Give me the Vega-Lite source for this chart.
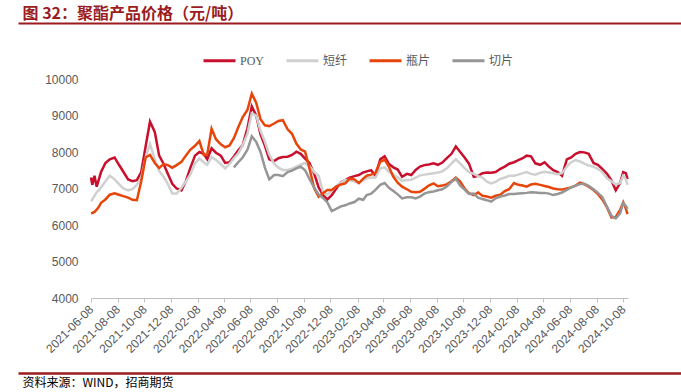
{
 "$schema": "https://vega.github.io/schema/vega-lite/v6.json",
 "width": 663,
 "height": 350,
 "autosize": {"type": "none"},
 "padding": {"left": 18, "top": 23, "right": 0, "bottom": 19},
 "background": "white",
 "config": {"view": {"stroke": null}},
 "data": {"values": [
{"d":"2021-06-08","POY":7300,"短纤":6650,"瓶片":6320},
{"d":"2021-06-11","POY":7100,"短纤":6700,"瓶片":6330},
{"d":"2021-06-16","POY":7350,"短纤":6800,"瓶片":6360},
{"d":"2021-06-21","POY":7050,"短纤":6900,"瓶片":6420},
{"d":"2021-06-26","POY":7250,"短纤":6950,"瓶片":6500},
{"d":"2021-07-01","POY":7450,"短纤":7030,"瓶片":6610},
{"d":"2021-07-11","POY":7700,"短纤":7200,"瓶片":6700},
{"d":"2021-07-21","POY":7800,"短纤":7350,"瓶片":6830},
{"d":"2021-08-01","POY":7850,"短纤":7250,"瓶片":6870},
{"d":"2021-08-11","POY":7650,"短纤":7120,"瓶片":6830},
{"d":"2021-08-21","POY":7460,"短纤":7000,"瓶片":6790},
{"d":"2021-09-01","POY":7250,"短纤":6950,"瓶片":6750},
{"d":"2021-09-11","POY":7200,"短纤":6980,"瓶片":6690},
{"d":"2021-09-21","POY":7230,"短纤":7100,"瓶片":6680},
{"d":"2021-10-01","POY":7450,"短纤":7300,"瓶片":7200},
{"d":"2021-10-11","POY":8150,"短纤":7850,"瓶片":7850},
{"d":"2021-10-21","POY":8830,"短纤":8220,"瓶片":7920},
{"d":"2021-11-01","POY":8550,"短纤":7800,"瓶片":7700},
{"d":"2021-11-11","POY":7900,"短纤":7480,"瓶片":7560},
{"d":"2021-11-21","POY":7680,"短纤":7320,"瓶片":7670},
{"d":"2021-12-01","POY":7400,"短纤":7120,"瓶片":7640},
{"d":"2021-12-11","POY":7130,"短纤":6860,"瓶片":7570},
{"d":"2021-12-21","POY":7000,"短纤":6860,"瓶片":7640},
{"d":"2022-01-01","POY":6950,"短纤":7020,"瓶片":7730},
{"d":"2022-01-11","POY":7200,"短纤":7190,"瓶片":7900},
{"d":"2022-01-21","POY":7550,"短纤":7380,"瓶片":8060},
{"d":"2022-02-01","POY":7900,"短纤":7690,"瓶片":8170},
{"d":"2022-02-11","POY":8000,"短纤":7820,"瓶片":8300},
{"d":"2022-02-21","POY":7950,"短纤":7720,"瓶片":7920},
{"d":"2022-03-01","POY":7800,"短纤":7650,"瓶片":7930},
{"d":"2022-03-11","POY":8100,"短纤":7860,"瓶片":8640},
{"d":"2022-03-21","POY":7980,"短纤":7780,"瓶片":8350},
{"d":"2022-04-01","POY":7900,"短纤":7670,"瓶片":8210},
{"d":"2022-04-11","POY":7700,"短纤":7550,"瓶片":8130},
{"d":"2022-04-21","POY":7720,"短纤":7670,"瓶片":8180},
{"d":"2022-05-01","POY":7880,"短纤":7830,"瓶片":8380,"切片":7580},
{"d":"2022-05-11","POY":8050,"短纤":7960,"瓶片":8680,"切片":7720},
{"d":"2022-05-21","POY":8180,"短纤":8180,"瓶片":8950,"切片":7850},
{"d":"2022-06-01","POY":8650,"短纤":8500,"瓶片":9150,"切片":8060},
{"d":"2022-06-11","POY":9250,"短纤":9060,"瓶片":9600,"切片":8430},
{"d":"2022-06-21","POY":9000,"短纤":9000,"瓶片":9350,"切片":8280},
{"d":"2022-07-01","POY":8480,"短纤":8580,"瓶片":8900,"切片":8000},
{"d":"2022-07-11","POY":8170,"短纤":8280,"瓶片":8730,"切片":7570},
{"d":"2022-07-21","POY":7800,"短纤":7930,"瓶片":8710,"切片":7250},
{"d":"2022-08-01","POY":7750,"短纤":7680,"瓶片":8780,"切片":7370},
{"d":"2022-08-11","POY":7830,"短纤":7570,"瓶片":8850,"切片":7370},
{"d":"2022-08-21","POY":7860,"短纤":7510,"瓶片":8870,"切片":7340},
{"d":"2022-09-01","POY":7870,"短纤":7510,"瓶片":8620,"切片":7450},
{"d":"2022-09-11","POY":7920,"短纤":7540,"瓶片":8500,"切片":7490},
{"d":"2022-09-21","POY":8010,"短纤":7600,"瓶片":8230,"切片":7550},
{"d":"2022-10-01","POY":7950,"短纤":7650,"瓶片":8070,"切片":7600},
{"d":"2022-10-11","POY":7820,"短纤":7700,"瓶片":8010,"切片":7500},
{"d":"2022-10-21","POY":7700,"短纤":7620,"瓶片":7550,"切片":7260},
{"d":"2022-11-01","POY":7400,"短纤":7450,"瓶片":7000,"切片":7020},
{"d":"2022-11-11","POY":7030,"短纤":7350,"瓶片":6780,"切片":6840},
{"d":"2022-11-21","POY":6820,"短纤":6900,"瓶片":6870,"切片":6740},
{"d":"2022-12-01","POY":6700,"短纤":6830,"瓶片":6960,"切片":6620},
{"d":"2022-12-11","POY":6820,"短纤":6950,"瓶片":6960,"切片":6380},
{"d":"2022-12-21","POY":6990,"短纤":7060,"瓶片":7050,"切片":6440},
{"d":"2023-01-01","POY":7170,"短纤":7160,"瓶片":7110,"切片":6510},
{"d":"2023-01-11","POY":7230,"短纤":7230,"瓶片":7140,"切片":6540},
{"d":"2023-01-21","POY":7300,"短纤":7230,"瓶片":7270,"切片":6590},
{"d":"2023-02-01","POY":7340,"短纤":7190,"瓶片":7250,"切片":6630},
{"d":"2023-02-11","POY":7370,"短纤":7150,"瓶片":7150,"切片":6720},
{"d":"2023-02-21","POY":7440,"短纤":7230,"瓶片":7270,"切片":6690},
{"d":"2023-03-01","POY":7470,"短纤":7280,"瓶片":7350,"切片":6820},
{"d":"2023-03-11","POY":7500,"短纤":7300,"瓶片":7380,"切片":6860},
{"d":"2023-03-21","POY":7350,"短纤":7300,"瓶片":7430,"切片":6960},
{"d":"2023-04-01","POY":7800,"短纤":7550,"瓶片":7730,"切片":7100},
{"d":"2023-04-11","POY":7880,"短纤":7580,"瓶片":7790,"切片":7150},
{"d":"2023-04-21","POY":7670,"短纤":7450,"瓶片":7590,"切片":7020},
{"d":"2023-05-01","POY":7580,"短纤":7380,"瓶片":7320,"切片":6930},
{"d":"2023-05-11","POY":7520,"短纤":7300,"瓶片":7160,"切片":6840},
{"d":"2023-05-21","POY":7320,"短纤":7210,"瓶片":7050,"切片":6730},
{"d":"2023-06-01","POY":7400,"短纤":7230,"瓶片":6980,"切片":6760},
{"d":"2023-06-11","POY":7370,"短纤":7240,"瓶片":6910,"切片":6760},
{"d":"2023-06-21","POY":7510,"短纤":7300,"瓶片":6900,"切片":6730},
{"d":"2023-07-01","POY":7600,"短纤":7360,"瓶片":6910,"切片":6780},
{"d":"2023-07-11","POY":7640,"短纤":7380,"瓶片":6990,"切片":6860},
{"d":"2023-07-21","POY":7660,"短纤":7400,"瓶片":7080,"切片":6900},
{"d":"2023-08-01","POY":7690,"短纤":7420,"瓶片":7140,"切片":6920},
{"d":"2023-08-11","POY":7650,"短纤":7440,"瓶片":7060,"切片":6950},
{"d":"2023-08-21","POY":7710,"短纤":7470,"瓶片":7080,"切片":6980},
{"d":"2023-09-01","POY":7840,"短纤":7560,"瓶片":7120,"切片":7060},
{"d":"2023-09-11","POY":7950,"短纤":7690,"瓶片":7200,"切片":7180},
{"d":"2023-09-21","POY":8150,"短纤":7800,"瓶片":7300,"切片":7270},
{"d":"2023-10-01","POY":8000,"短纤":7680,"瓶片":7190,"切片":7080},
{"d":"2023-10-11","POY":7850,"短纤":7560,"瓶片":7000,"切片":6970},
{"d":"2023-10-21","POY":7680,"短纤":7450,"瓶片":6870,"切片":6850},
{"d":"2023-11-01","POY":7320,"短纤":7400,"瓶片":6820,"切片":6860},
{"d":"2023-11-11","POY":7350,"短纤":7340,"瓶片":6890,"切片":6750},
{"d":"2023-11-21","POY":7420,"短纤":7300,"瓶片":6800,"切片":6710},
{"d":"2023-12-01","POY":7440,"短纤":7190,"瓶片":6780,"切片":6680},
{"d":"2023-12-11","POY":7430,"短纤":7140,"瓶片":6750,"切片":6640},
{"d":"2023-12-21","POY":7450,"短纤":7180,"瓶片":6800,"切片":6730},
{"d":"2024-01-01","POY":7540,"短纤":7260,"瓶片":6830,"切片":6780},
{"d":"2024-01-11","POY":7600,"短纤":7300,"瓶片":6930,"切片":6810},
{"d":"2024-01-21","POY":7680,"短纤":7350,"瓶片":6980,"切片":6850},
{"d":"2024-02-01","POY":7720,"短纤":7350,"瓶片":7150,"切片":6850},
{"d":"2024-02-11","POY":7780,"短纤":7380,"瓶片":7100,"切片":6860},
{"d":"2024-02-21","POY":7830,"短纤":7420,"瓶片":7080,"切片":6870},
{"d":"2024-03-01","POY":7900,"短纤":7450,"瓶片":7050,"切片":6880},
{"d":"2024-03-11","POY":7880,"短纤":7400,"瓶片":7110,"切片":6900},
{"d":"2024-03-21","POY":7690,"短纤":7380,"瓶片":7130,"切片":6890},
{"d":"2024-04-01","POY":7650,"短纤":7430,"瓶片":7100,"切片":6880},
{"d":"2024-04-11","POY":7720,"短纤":7460,"瓶片":7070,"切片":6880},
{"d":"2024-04-21","POY":7600,"短纤":7440,"瓶片":7040,"切片":6860},
{"d":"2024-05-01","POY":7500,"短纤":7420,"瓶片":7000,"切片":6820},
{"d":"2024-05-11","POY":7450,"短纤":7390,"瓶片":6980,"切片":6850},
{"d":"2024-05-21","POY":7350,"短纤":7420,"瓶片":6970,"切片":6890},
{"d":"2024-06-01","POY":7800,"短纤":7600,"瓶片":7000,"切片":6960},
{"d":"2024-06-11","POY":7850,"短纤":7720,"瓶片":7030,"切片":7030},
{"d":"2024-06-21","POY":7950,"短纤":7780,"瓶片":7080,"切片":7080},
{"d":"2024-07-01","POY":8000,"短纤":7740,"瓶片":7160,"切片":7120},
{"d":"2024-07-11","POY":7990,"短纤":7680,"瓶片":7120,"切片":7130},
{"d":"2024-07-21","POY":7950,"短纤":7630,"瓶片":7050,"切片":7070},
{"d":"2024-08-01","POY":7700,"短纤":7600,"瓶片":6960,"切片":6980},
{"d":"2024-08-11","POY":7650,"短纤":7540,"瓶片":6850,"切片":6880},
{"d":"2024-08-21","POY":7540,"短纤":7450,"瓶片":6700,"切片":6770},
{"d":"2024-09-01","POY":7400,"短纤":7280,"瓶片":6480,"切片":6500},
{"d":"2024-09-11","POY":7220,"短纤":7200,"瓶片":6210,"切片":6250},
{"d":"2024-09-21","POY":6950,"短纤":7110,"瓶片":6220,"切片":6180},
{"d":"2024-10-01","POY":7150,"短纤":7150,"瓶片":6410,"切片":6320},
{"d":"2024-10-08","POY":7450,"短纤":7350,"瓶片":6620,"切片":6600},
{"d":"2024-10-14","POY":7420,"短纤":7250,"瓶片":6450,"切片":6520},
{"d":"2024-10-18","POY":7260,"短纤":7100,"瓶片":6300,"切片":6440}
 ]},
 "transform": [{"fold": ["POY", "短纤", "瓶片", "切片"], "as": ["series", "value"]}],
 "layer": [
  {
   "mark": {"type": "line", "strokeWidth": 2.5},
   "encoding": {
    "x": {
     "field": "d", "type": "temporal",
     "scale": {"type": "utc", "domain": [{"year": 2021, "month": 6, "date": 8, "utc": true}, {"year": 2024, "month": 10, "date": 19, "utc": true}], "range": [73, 610]},
     "axis": {
      "orient": "bottom", "offset": -75, "title": null, "grid": false,
      "values": [
       {"year": 2021, "month": 6, "date": 8, "utc": true},
       {"year": 2021, "month": 8, "date": 8, "utc": true},
       {"year": 2021, "month": 10, "date": 8, "utc": true},
       {"year": 2021, "month": 12, "date": 8, "utc": true},
       {"year": 2022, "month": 2, "date": 8, "utc": true},
       {"year": 2022, "month": 4, "date": 8, "utc": true},
       {"year": 2022, "month": 6, "date": 8, "utc": true},
       {"year": 2022, "month": 8, "date": 8, "utc": true},
       {"year": 2022, "month": 10, "date": 8, "utc": true},
       {"year": 2022, "month": 12, "date": 8, "utc": true},
       {"year": 2023, "month": 2, "date": 8, "utc": true},
       {"year": 2023, "month": 4, "date": 8, "utc": true},
       {"year": 2023, "month": 6, "date": 8, "utc": true},
       {"year": 2023, "month": 8, "date": 8, "utc": true},
       {"year": 2023, "month": 10, "date": 8, "utc": true},
       {"year": 2023, "month": 12, "date": 8, "utc": true},
       {"year": 2024, "month": 2, "date": 8, "utc": true},
       {"year": 2024, "month": 4, "date": 8, "utc": true},
       {"year": 2024, "month": 6, "date": 8, "utc": true},
       {"year": 2024, "month": 8, "date": 8, "utc": true},
       {"year": 2024, "month": 10, "date": 8, "utc": true}
      ],
      "format": "%Y-%m-%d",
      "labelAngle": -45, "labelAlign": "right", "labelBaseline": "middle",
      "labelFont": "Liberation Sans", "labelFontSize": 12, "labelColor": "#595959",
      "labelPadding": 5, "labelOverlap": false, "labelFlush": false,
      "tickSize": 4, "tickColor": "#BFBFBF", "domainColor": "#BFBFBF"
     }
    },
    "y": {
     "field": "value", "type": "quantitative",
     "scale": {"domain": [4000, 10000], "range": [275, 56], "zero": false, "nice": false},
     "axis": {
      "values": [4000, 5000, 6000, 7000, 8000, 9000, 10000], "format": "d",
      "offset": -73, "title": null, "domain": false, "ticks": false, "tickSize": 0, "grid": false,
      "labelPadding": 13, "labelFont": "Liberation Sans", "labelFontSize": 12, "labelColor": "#595959"
     }
    },
    "color": {
     "field": "series", "type": "nominal",
     "scale": {"domain": ["POY", "短纤", "瓶片", "切片"], "range": ["#C8102E", "#D0D0D0", "#E8450A", "#969696"]},
     "legend": {
      "title": null, "orient": "none", "legendX": 184, "legendY": 20, "direction": "horizontal",
      "symbolType": "stroke", "symbolSize": 1024, "symbolStrokeWidth": 3,
      "labelFont": "Liberation Serif, Noto Sans CJK SC", "labelFontSize": 12, "labelColor": "#595959",
      "labelOffset": 3, "columnPadding": 15
     }
    }
   }
  },
  {
   "mark": {"type": "rule", "opacity": 0},
   "encoding": {
    "x": {
     "field": "d", "type": "temporal", "scale": {"type": "utc"},
     "axis": {
      "orient": "top", "title": "图 32：聚酯产品价格（元/吨）",
      "titleAnchor": "start", "titleAlign": "left", "titleBaseline": "alphabetic",
      "titleX": 4, "titleY": -5, "titleFont": "Noto Sans CJK SC", "titleFontSize": 16,
      "titleFontWeight": "bold", "titleColor": "#9B1C20",
      "labels": false, "ticks": false, "grid": false, "domainColor": "#9B1C20", "domainWidth": 2
     }
    }
   }
  },
  {
   "mark": {"type": "rule", "opacity": 0},
   "encoding": {
    "x": {
     "field": "d", "type": "temporal", "scale": {"type": "utc"},
     "axis": {
      "orient": "bottom", "title": "资料来源：WIND，招商期货",
      "titleAnchor": "start", "titleAlign": "left", "titleBaseline": "alphabetic",
      "titleX": 4, "titleY": 13, "titleFont": "Noto Sans CJK SC", "titleFontSize": 12,
      "titleFontWeight": "normal", "titleColor": "#000000",
      "labels": false, "ticks": false, "grid": false, "domainColor": "#9B1C20", "domainWidth": 2.5
     }
    }
   }
  }
 ],
 "resolve": {"scale": {"x": "independent"}}
}
